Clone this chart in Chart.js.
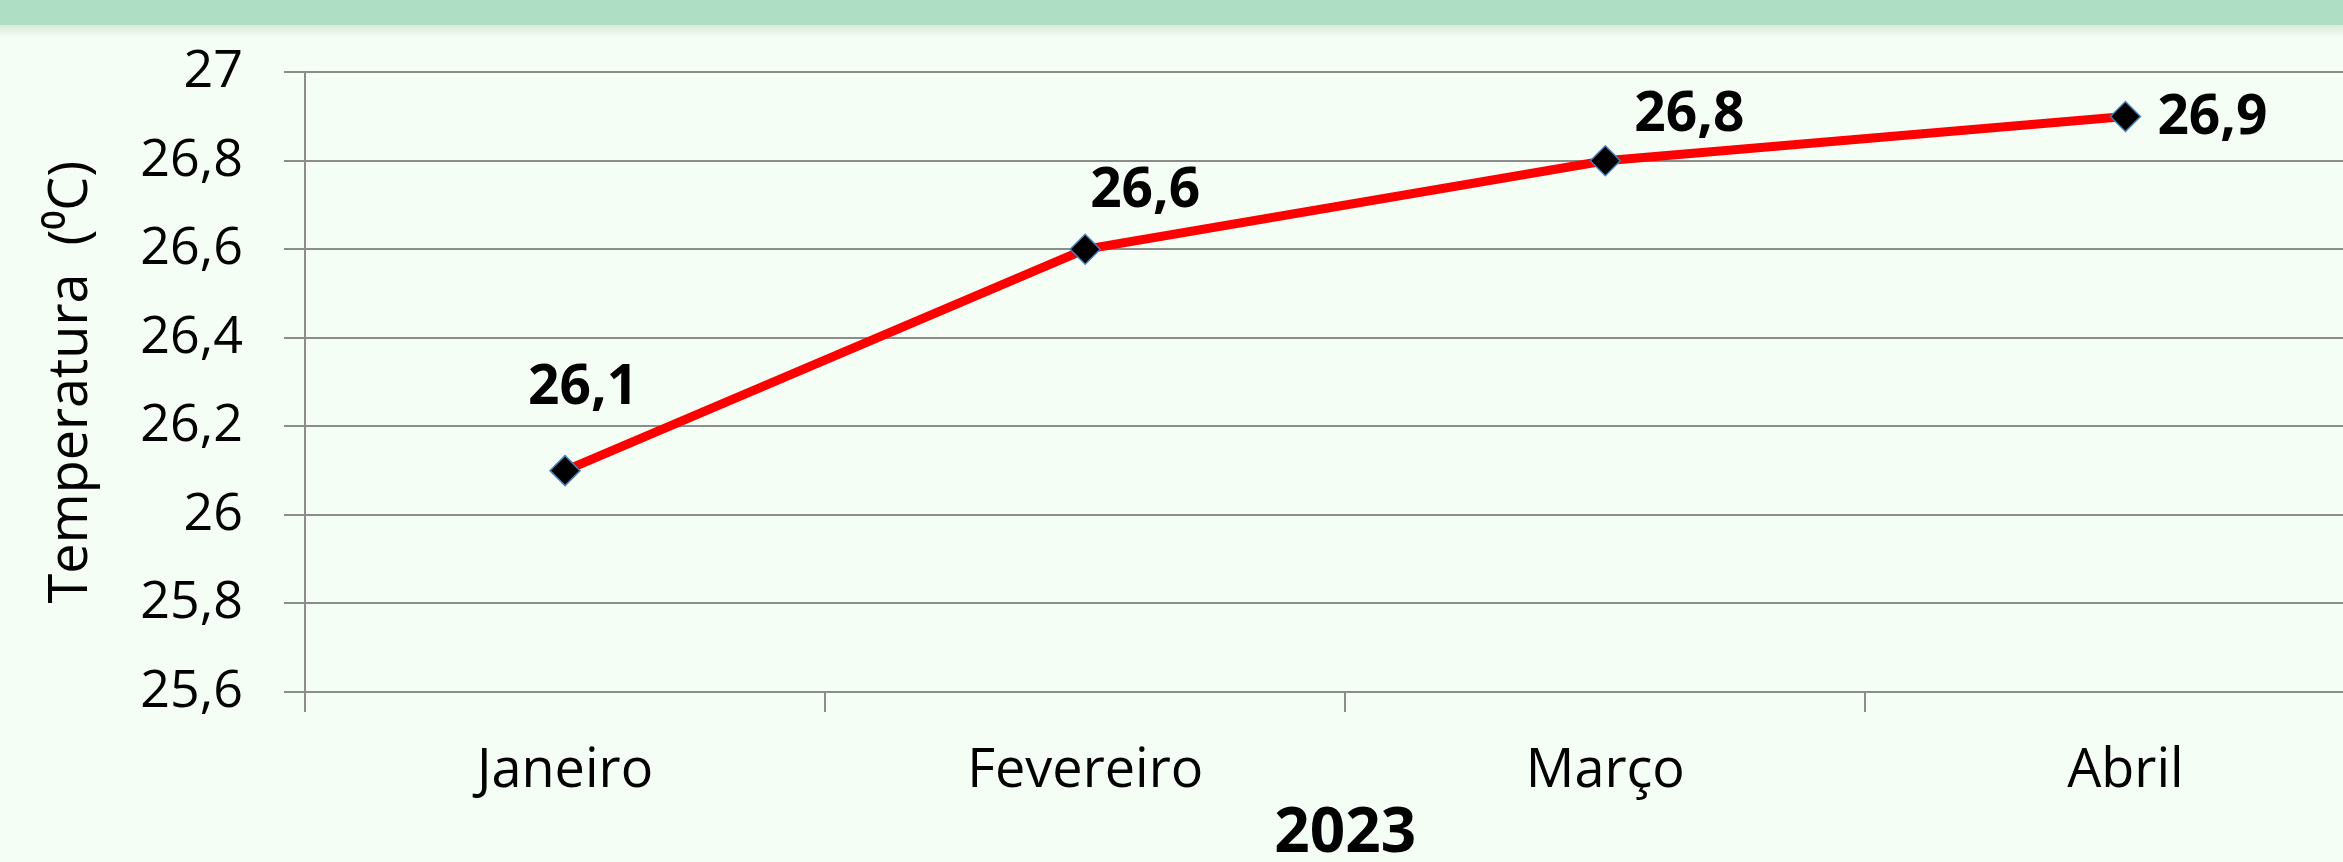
<!DOCTYPE html>
<html lang="pt">
<head>
<meta charset="utf-8">
<script src="https://cdn.jsdelivr.net/npm/chart.js@4.4.0/dist/chart.umd.min.js"></script>
<style>
  html, body { margin: 0; padding: 0; overflow: hidden; background: #f4fef4; }
  #wrap { position: relative; width: 2402px; height: 862px; }
</style>
</head>
<body>
<div id="wrap"><canvas id="graficoTemp"></canvas></div>
<script>
// dados do gráfico
const meses = ["Janeiro", "Fevereiro", "Março", "Abril"];
const temperaturas = [26.1, 26.6, 26.8, 26.9];
const ticksY = ["25,6", "25,8", "26", "26,2", "26,4", "26,6", "26,8", "27"];
const tituloY = "Temperatura  (⁰C)";
const tituloX = "2023";

// deslocamento (px) de cada rótulo de valor em relação ao ponto
const deslocRotulos = [[18, -82], [60, -58], [84, -45], [87, 2]];

// fundo verde-claro + faixa do topo
const fundo = {
  id: "fundo",
  beforeDraw(chart) {
    const c = chart.ctx;
    c.save();
    c.fillStyle = "#f4fef4";
    c.fillRect(0, 0, chart.width, chart.height);
    const g = c.createLinearGradient(0, 25, 0, 37);
    g.addColorStop(0, "#dce8dc");
    g.addColorStop(1, "#f4fef4");
    c.fillStyle = g;
    c.fillRect(0, 25, chart.width, 12);
    c.fillStyle = "#aedec3";
    c.fillRect(0, 0, chart.width, 25);
    c.restore();
  }
};

// rótulos com os valores
const rotulos = {
  id: "rotulos",
  afterDatasetsDraw(chart) {
    const c = chart.ctx;
    const meta = chart.getDatasetMeta(0);
    c.save();
    c.font = "bold 55px 'Open Sans'";
    c.fillStyle = "#000";
    c.textAlign = "center";
    c.textBaseline = "middle";
    meta.data.forEach((p, i) => {
      const txt = String(temperaturas[i]).replace(".", ",");
      c.fillText(txt, p.x + deslocRotulos[i][0], p.y + deslocRotulos[i][1]);
    });
    c.restore();
  }
};

const cinza = "#8c8c8c";

new Chart(document.getElementById("graficoTemp").getContext("2d"), {
  type: "line",
  data: {
    labels: meses,
    datasets: [{
      data: temperaturas,
      borderColor: "#ff0000",
      borderWidth: 9,
      tension: 0,
      pointStyle: "rectRot",
      pointRadius: 15,
      pointBackgroundColor: "#000",
      pointBorderColor: "#4a7ebb",
      pointBorderWidth: 1.5
    }]
  },
  options: {
    responsive: true,
    maintainAspectRatio: false,
    animation: false,
    layout: { padding: { top: 70, left: 0, right: 0, bottom: 0 } },
    plugins: { legend: { display: false }, tooltip: { enabled: false } },
    scales: {
      x: {
        offset: true,
        grid: { offset: true, drawOnChartArea: false, tickLength: 20, color: cinza, lineWidth: 2 },
        border: { color: cinza, width: 2 },
        ticks: { color: "#000", font: { family: "Open Sans", size: 54 }, padding: 27, maxRotation: 0, autoSkip: false },
        title: {
          display: true, text: tituloX, color: "#000",
          font: { family: "Open Sans", size: 62, weight: "bold", lineHeight: 0.9 },
          padding: { top: 0, bottom: 0 }
        },
        afterFit(s) { s.height = 170; }
      },
      y: {
        min: 25.6,
        max: 27,
        grid: { color: cinza, lineWidth: 2, tickLength: 21 },
        border: { color: cinza, width: 2 },
        ticks: {
          stepSize: 0.2, color: "#000", padding: 41,
          font: { family: "Open Sans", size: 52 },
          callback: (v, i) => ticksY[i]
        },
        title: {
          display: true, text: tituloY, color: "#000",
          font: { family: "Open Sans", size: 54 },
          padding: { top: 39, bottom: 0 }
        },
        afterFit(s) { s.width = 305; }
      }
    }
  },
  plugins: [fundo, rotulos]
});
</script>
</body>
</html>
